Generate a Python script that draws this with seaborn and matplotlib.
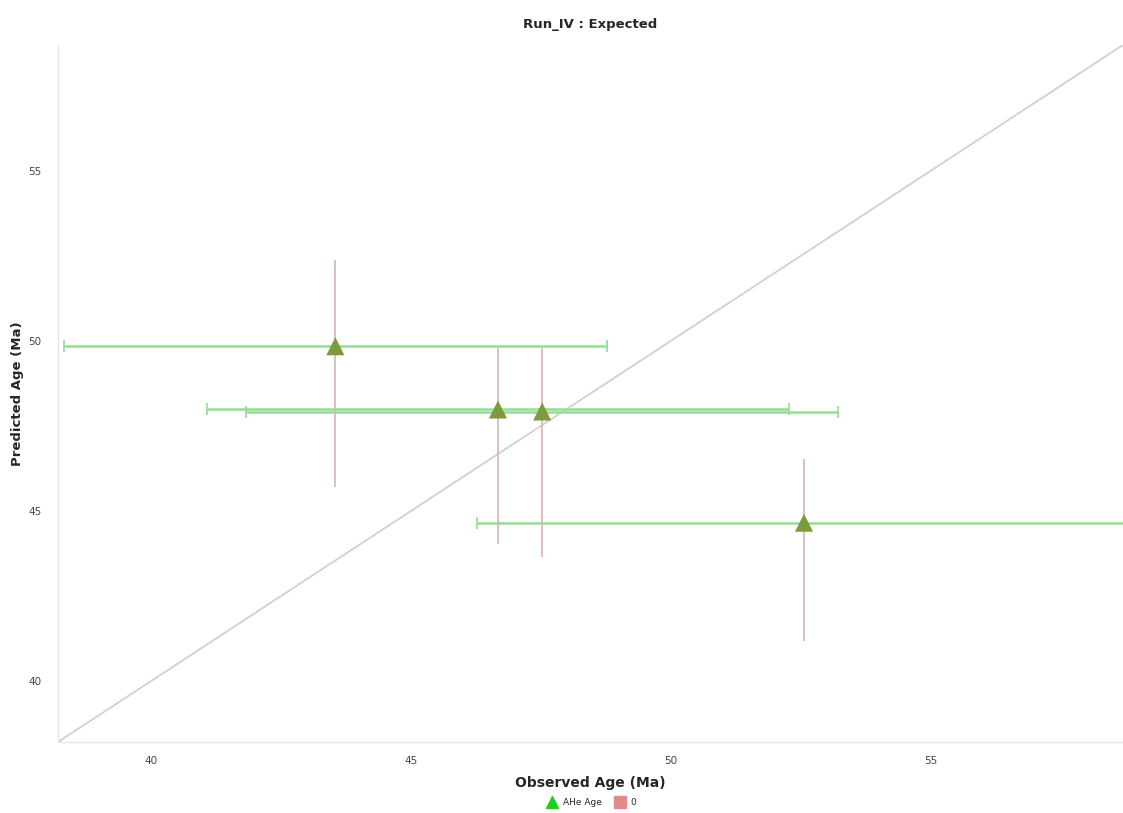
import numpy as np
import pandas as pd
import matplotlib
matplotlib.use("Agg")
import matplotlib.pyplot as plt
import seaborn as sns
from matplotlib.lines import Line2D

# --- DATA ---
observed = [43.54, 46.67, 47.52, 52.56]
predicted = [49.84, 47.98, 47.92, 44.65]
obs_err = [5.23, 5.6, 5.7, 6.3]
pred_lo = [45.71, 44.03, 43.64, 41.17]
pred_hi = [52.37, 49.78, 49.78, 46.53]

df = pd.DataFrame({"Observed": observed, "Predicted": predicted})

sns.set_theme(style="white")
plt.rcParams['font.family'] = ['DejaVu Sans']

fig = plt.figure(figsize=(11.23, 8.13), dpi=100)
ax = fig.add_axes([0.0516, 0.0873, 0.9484, 0.8574])

lo, hi = 38.2, 58.7
ax.plot([lo, hi], [lo, hi], color="#d0d0d0", lw=1.3, zorder=1)

# horizontal (observed) error bars
ax.errorbar(df["Observed"], df["Predicted"], xerr=obs_err, fmt="none",
            ecolor="#94dd94", elinewidth=1.8, capsize=4, capthick=1.2, zorder=2)
# vertical (predicted range) bars
yerr = [np.array(predicted) - np.array(pred_lo), np.array(pred_hi) - np.array(predicted)]
ax.errorbar(df["Observed"], df["Predicted"], yerr=yerr, fmt="none",
            ecolor="#d9b3b3", elinewidth=1.2, capsize=0, zorder=2)

sns.scatterplot(data=df, x="Observed", y="Predicted", marker="^", s=170,
                color="#7f9a3c", edgecolor="none", ax=ax, zorder=3, legend=False)

ax.set_xlim(lo, hi)
ax.set_ylim(lo, hi)
ax.set_xticks([40, 45, 50, 55])
ax.set_yticks([40, 45, 50, 55])
ax.tick_params(labelsize=7.5, colors="#444444", length=0)
ax.tick_params(axis="x", pad=10)
ax.tick_params(axis="y", pad=12)

for s in ["top", "right"]:
    ax.spines[s].set_visible(False)
for s in ["left", "bottom"]:
    ax.spines[s].set_color("#e6e6e6")
    ax.spines[s].set_linewidth(1.0)

ax.set_title("Run_IV : Expected", fontsize=9.5, fontweight="bold", pad=12)
ax.set_xlabel("Observed Age (Ma)", fontsize=10, fontweight="bold", labelpad=7)
ax.set_ylabel("Predicted Age (Ma)", fontsize=9.5, fontweight="bold", labelpad=3)

handles = [
    Line2D([], [], marker="^", color="#22cc22", linestyle="none", markersize=8),
    Line2D([], [], marker="s", color="#e08a8a", linestyle="none", markersize=8),
]
fig.legend(handles, ["AHe Age", "0"], loc="center", bbox_to_anchor=(0.525, 0.013),
           ncol=2, frameon=False, fontsize=6.5, handletextpad=0.2, columnspacing=1.0)

fig.savefig("out.png", dpi=100, facecolor="white")
